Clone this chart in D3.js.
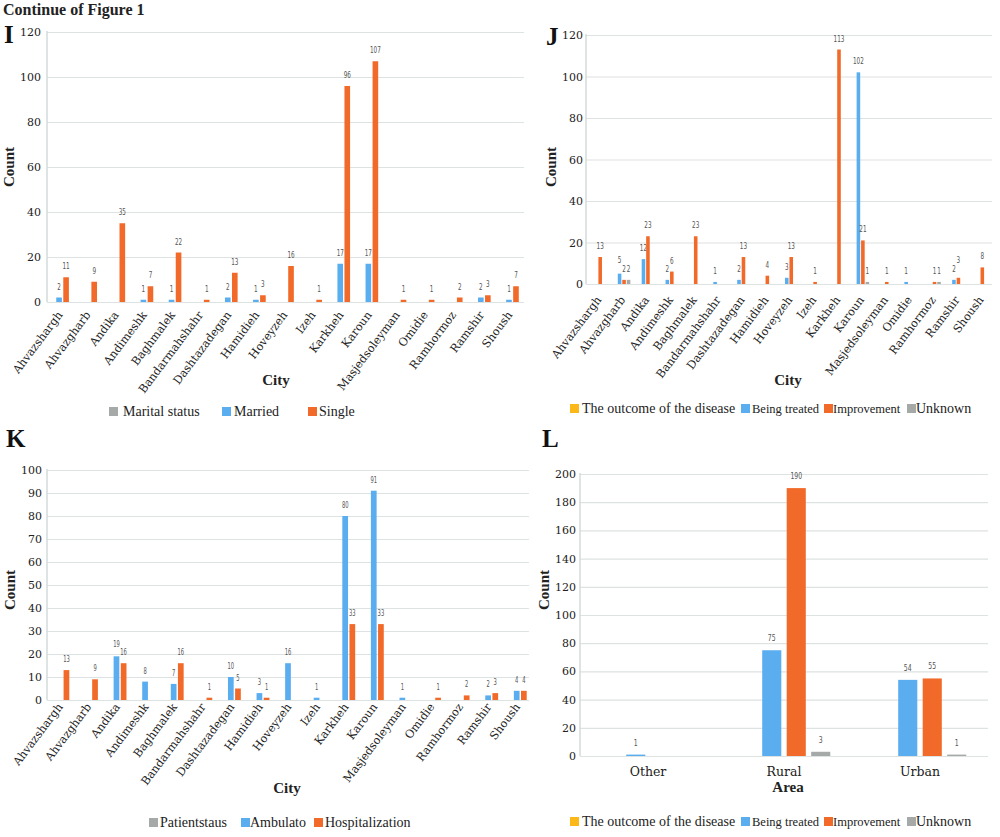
<!DOCTYPE html>
<html>
<head>
<meta charset="utf-8">
<script src="https://cdn.jsdelivr.net/npm/d3@7"></script>
<style>
  html, body { margin: 0; padding: 0; background: #fff; }
  svg { display: block; }
</style>
</head>
<body>
<svg id="chart" width="1000" height="837"></svg>
<script>
// ---------------- DATA ----------------
const cities = ["Ahvazshargh","Ahvazgharb","Andika","Andimeshk","Baghmalek","Bandarmahshahr","Dashtazadegan","Hamidieh","Hoveyzeh","Izeh","Karkheh","Karoun","Masjedsoleyman","Omidie","Ramhormoz","Ramshir","Shoush"];

// Panel I – marital status
const seriesI = ["Marital status","Married","Single"];
const maritalStatus = [0,0,0,0,0,0,0,0,0,0,0,0,0,0,0,0,0];
const married      = [2,0,0,1,1,0,2,1,0,0,17,17,0,0,0,2,1];
const single       = [11,9,35,7,22,1,13,3,16,1,96,107,1,1,2,3,7];

// Panel J – outcome of the disease by city
const seriesJ = ["The outcome of the disease","Being treated","Improvement","Unknown"];
const outcomeJ      = [0,0,0,0,0,0,0,0,0,0,0,0,0,0,0,0,0];
const beingTreatedJ = [0,5,12,2,0,1,2,0,3,0,0,102,0,1,0,2,0];
const improvementJ  = [13,2,23,6,23,0,13,4,13,1,113,21,1,0,1,3,8];
const unknownJ      = [0,2,0,0,0,0,0,0,0,0,0,1,0,0,1,0,0];

// Panel K – patient status
const seriesK = ["Patientstaus","Ambulato","Hospitalization"];
const patientStatus   = [0,0,0,0,0,0,0,0,0,0,0,0,0,0,0,0,0];
const ambulato        = [0,0,19,8,7,0,10,3,16,1,80,91,1,0,0,2,4];
const hospitalization = [13,9,16,0,16,1,5,1,0,0,33,33,0,1,2,3,4];

// Panel L – outcome by area
const areas = ["Other","Rural","Urban"];
const seriesL = ["The outcome of the disease","Being treated","Improvement","Unknown"];
const outcomeL      = [0,0,0];
const beingTreatedL = [1,75,54];
const improvementL  = [0,190,55];
const unknownL      = [0,3,1];

const ticksI = [0,20,40,60,80,100,120];
const ticksJ = [0,20,40,60,80,100,120];
const ticksK = [0,10,20,30,40,50,60,70,80,90,100];
const ticksL = [0,20,40,60,80,100,120,140,160,180,200];

// ---------------- STYLE ----------------
const COL = { gray: "#a5a9a8", blue: "#5aaef0", orange: "#f26a2a", yellow: "#fbb818" };
const serif = "'Liberation Serif', 'DejaVu Serif', serif";
const tickFont = "'DejaVu Serif', serif";
const valFont = "'DejaVu Sans Condensed', 'DejaVu Sans', sans-serif";

const svg = d3.select("#chart");

// Header
svg.append("text").attr("x", 3).attr("y", 15)
  .attr("font-family", serif).attr("font-weight", "bold").attr("font-size", 16)
  .attr("fill", "#222").text("Continue of Figure 1");

function panel(cfg) {
  const g = svg.append("g");
  const x0 = d3.scaleBand().domain(cfg.cats).range([cfg.left, cfg.right])
    .paddingInner(cfg.pad).paddingOuter(cfg.pad / 2);
  const x1 = d3.scaleBand().domain(cfg.series).range([0, x0.bandwidth()]);
  const y = d3.scaleLinear().domain([0, cfg.max]).range([cfg.bottom, cfg.top]);

  // gridlines + tick labels
  const ax = d3.axisLeft(y).tickValues(cfg.ticks).tickSize(-(cfg.gridRight - cfg.axisX)).tickPadding(0);
  const ag = g.append("g").attr("transform", `translate(${cfg.axisX},0)`).call(ax);
  ag.select(".domain").remove();
  ag.selectAll(".tick line").attr("stroke", "#dde2e2").attr("stroke-width", 1.2);
  ag.selectAll(".tick text").attr("x", cfg.tickX - cfg.axisX)
    .attr("font-family", tickFont).attr("font-size", cfg.tickSize || 11).attr("fill", "#222");
  // left axis line
  g.append("line").attr("x1", cfg.axisX).attr("x2", cfg.axisX)
    .attr("y1", cfg.top - 1).attr("y2", cfg.bottom)
    .attr("stroke", "#d3dada").attr("stroke-width", 1.5);

  // bars
  const fs = cfg.valSize || 9.5;
  const barW = x1.step() * cfg.barFrac;
  const labelsByCat = {};
  cfg.series.forEach((s, si) => {
    const vals = cfg.values[si];
    const col = cfg.colors[si];
    cfg.cats.forEach((c, ci) => {
      const v = vals[ci];
      if (!v) return;
      const cx = x0(c) + x1(s) + x1.step() / 2;
      g.append("rect").attr("x", cx - barW / 2).attr("y", y(v))
        .attr("width", barW).attr("height", cfg.bottom - y(v)).attr("fill", col);
      const ly = y(v) - cfg.labelGap;
      const t = g.append("text").attr("x", cx).attr("y", ly)
        .attr("text-anchor", "middle").attr("font-family", valFont)
        .attr("font-size", fs).attr("fill", "#555").text(v);
      t.attr("textLength", String(v).length * (cfg.digitW || 3.6)).attr("lengthAdjust", "spacingAndGlyphs");
      (labelsByCat[c] = labelsByCat[c] || []).push({ t, v, x: cx, y: ly, w: String(v).length * 0.6 * fs });
    });
  });
  // lift a label that would collide with its neighbour in the same group
  const h = fs * 0.8;
  Object.values(labelsByCat).forEach(list => {
    for (let i = 1; i < list.length; i++) {
      const a = list[i - 1], b = list[i];
      const hOverlap = Math.abs(a.x - b.x) < (a.w + b.w) / 2;
      const vOverlap = Math.abs(a.y - b.y) < h;
      if (hOverlap && vOverlap && a.v !== b.v) {
        const hi = a.v > b.v ? a : b, lo = hi === a ? b : a;
        hi.y = lo.y - h - 1;
        hi.t.attr("y", hi.y);
      }
    }
  });

  // category labels
  cfg.cats.forEach(c => {
    const cx = x0(c) + x0.bandwidth() / 2;
    if (cfg.rotate) {
      g.append("text")
        .attr("transform", `translate(${cx + cfg.catDx},${cfg.bottom + cfg.catDy}) rotate(-53)`)
        .attr("text-anchor", "end").attr("font-family", tickFont).attr("font-size", 11.3)
        .attr("fill", "#222").text(c);
    } else {
      g.append("text").attr("x", cx).attr("y", cfg.bottom + cfg.catDy)
        .attr("text-anchor", "middle").attr("font-family", tickFont).attr("font-size", 12.5)
        .attr("fill", "#222").text(c);
    }
  });

  // axis titles
  g.append("text").attr("x", cfg.xTitle[0]).attr("y", cfg.xTitle[1]).attr("text-anchor", "middle")
    .attr("font-family", serif).attr("font-weight", "bold").attr("font-size", 15)
    .attr("fill", "#222").text(cfg.xTitleText);
  g.append("text").attr("transform", `translate(${cfg.yTitle[0]},${cfg.yTitle[1]}) rotate(-90)`)
    .attr("text-anchor", "middle").attr("font-family", serif).attr("font-weight", "bold")
    .attr("font-size", 15).attr("fill", "#222").text("Count");

  // panel letter
  g.append("text").attr("x", cfg.letter[0]).attr("y", cfg.letter[1])
    .attr("font-family", serif).attr("font-weight", "bold").attr("font-size", 25)
    .attr("fill", "#111").text(cfg.letterText);

  // legend
  cfg.legend.forEach((L, i) => {
    g.append("rect").attr("x", L.sx).attr("y", cfg.legendY - 9).attr("width", 9).attr("height", 9)
      .attr("fill", cfg.colors[i]);
    g.append("text").attr("x", L.tx).attr("y", cfg.legendY).attr("font-family", serif)
      .attr("font-size", L.size || 14).attr("fill", "#222").text(cfg.series[i]);
  });
}

panel({
  cats: cities, series: seriesI, values: [maritalStatus, married, single],
  colors: [COL.gray, COL.blue, COL.orange],
  left: 45, right: 523, pad: 0.25, barFrac: 0.8,
  top: 32, bottom: 302, max: 120, ticks: ticksI,
  axisX: 47, gridRight: 524, tickX: 41, labelGap: 8,
  rotate: true, catDx: 4, catDy: 13,
  xTitle: [276, 385], xTitleText: "City", yTitle: [14, 167],
  letter: [4, 43], letterText: "I",
  legendY: 416,
  legend: [{sx: 109, tx: 123}, {sx: 222, tx: 234}, {sx: 308, tx: 319}]
});

panel({
  cats: cities, series: seriesJ, values: [outcomeJ, beingTreatedJ, improvementJ, unknownJ],
  colors: [COL.yellow, COL.blue, COL.orange, COL.gray],
  left: 586, right: 992, pad: 0.25, barFrac: 0.8,
  top: 35, bottom: 284, max: 120, ticks: ticksJ,
  axisX: 586, gridRight: 992, tickX: 583, labelGap: 8,
  rotate: true, catDx: 4, catDy: 16,
  xTitle: [788, 385], xTitleText: "City", yTitle: [556, 167],
  letter: [546, 45], letterText: "J",
  legendY: 413,
  legend: [{sx: 570, tx: 582}, {sx: 741, tx: 752, size: 12.5}, {sx: 824, tx: 833, size: 12.5}, {sx: 907, tx: 916}]
});

panel({
  cats: cities, series: seriesK, values: [patientStatus, ambulato, hospitalization],
  colors: [COL.gray, COL.blue, COL.orange],
  left: 45, right: 531, pad: 0.25, barFrac: 0.8,
  top: 470, bottom: 700, max: 100, ticks: ticksK,
  axisX: 47, gridRight: 529, tickX: 42, labelGap: 8, digitW: 3.3,
  rotate: true, catDx: 4, catDy: 7,
  xTitle: [287, 793], xTitleText: "City", yTitle: [15, 590],
  letter: [6, 447], letterText: "K",
  legendY: 827,
  legend: [{sx: 149, tx: 160}, {sx: 241, tx: 250}, {sx: 314, tx: 325}]
});

panel({
  cats: areas, series: seriesL, values: [outcomeL, beingTreatedL, improvementL, unknownL],
  colors: [COL.yellow, COL.blue, COL.orange, COL.gray],
  left: 580, right: 988, pad: 0.28, barFrac: 0.78,
  top: 474, bottom: 756, max: 200, ticks: ticksL,
  axisX: 580, gridRight: 988, tickX: 576, labelGap: 9, digitW: 3.9,
  rotate: false, catDy: 20,
  xTitle: [788, 792], xTitleText: "Area", yTitle: [549, 590],
  letter: [542, 447], letterText: "L",
  legendY: 826,
  legend: [{sx: 570, tx: 582}, {sx: 741, tx: 752, size: 12.5}, {sx: 824, tx: 833, size: 12.5}, {sx: 907, tx: 916}]
});
</script>
</body>
</html>
